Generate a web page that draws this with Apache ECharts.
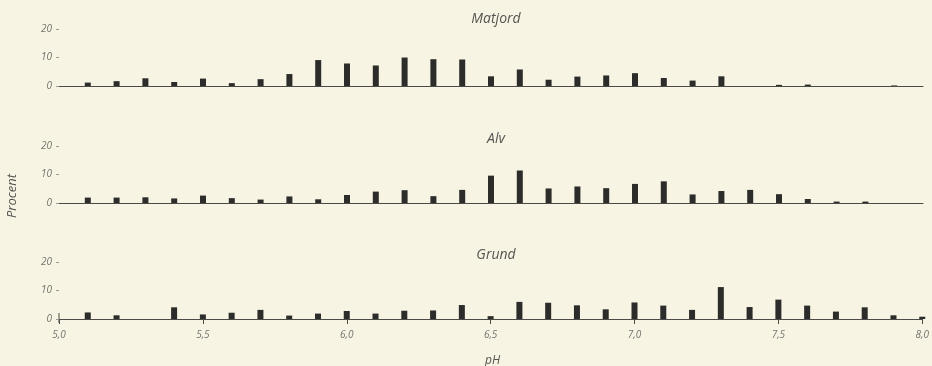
<!DOCTYPE html>
<html>
<head>
<meta charset="utf-8">
<script src="https://cdn.jsdelivr.net/npm/echarts@6/dist/echarts.min.js"></script>
<style>
html,body{margin:0;padding:0;background:#f7f4e3;}
#c{width:932px;height:366px;}
</style>
</head>
<body>
<div id="c"></div>
<script>
const phValues = [5.1,5.2,5.3,5.4,5.5,5.6,5.7,5.8,5.9,6.0,6.1,6.2,6.3,6.4,6.5,6.6,6.7,6.8,6.9,7.0,7.1,7.2,7.3,7.4,7.5,7.6,7.7,7.8,7.9,8.0];
const matjord = [1.2,1.7,2.7,1.4,2.6,1.0,2.4,4.2,9.1,7.9,7.2,10.0,9.4,9.3,3.4,5.8,2.2,3.3,3.7,4.5,2.8,1.9,3.4,0,0.4,0.5,0,0,0.2,0];
const alv = [1.9,1.9,2.0,1.6,2.6,1.7,1.2,2.3,1.3,2.8,4.0,4.5,2.4,4.6,9.6,11.4,5.1,5.8,5.2,6.7,7.6,3.0,4.2,4.6,3.1,1.4,0.5,0.5,0,0];
const grund = [2.3,1.3,0,4.1,1.6,2.2,3.2,1.2,1.9,2.8,1.9,2.9,3.0,4.9,1.0,6.0,5.7,4.8,3.4,5.8,4.7,3.2,11.2,4.2,6.8,4.7,2.6,4.1,1.3,0.8];
const panelTitles = ['Matjord','Alv','Grund'];
const yTicks = [0,10,20];
const xTickLabels = ['5,0','5,5','6,0','6,5','7,0','7,5','8,0'];
const seriesList = [matjord, alv, grund];

const grey = '#74746f';
const font = 'Open Sans';
const tops = [29, 146, 262];
const h = 57;

const grids = tops.map(t => ({left: 59, right: 9, top: t, height: h}));
const xAxes = tops.map((t, i) => ({
  type: 'value', gridIndex: i, min: 5.0, max: 8.0, interval: 0.5,
  axisLine: {show: true, onZero: false, lineStyle: {color: '#4a4a46', width: 1}},
  axisTick: {show: i === 2, length: 5, lineStyle: {color: '#4a4a46'}},
  axisLabel: {show: i === 2, margin: 11, color: grey, fontStyle: 'italic', fontFamily: font, fontSize: 10,
    formatter: v => xTickLabels[Math.round((v - 5.0) / 0.5)]},
  splitLine: {show: false}
}));
const yAxes = tops.map((t, i) => ({
  type: 'value', gridIndex: i, min: 0, max: 20, interval: 10,
  axisLine: {show: false},
  axisTick: {show: true, length: 3, lineStyle: {color: '#9a9a94'}},
  axisLabel: {margin: 7, color: grey, fontStyle: 'italic', fontFamily: font, fontSize: 10},
  splitLine: {show: false}
}));
const series = seriesList.map((arr, i) => ({
  type: 'bar', xAxisIndex: i, yAxisIndex: i, barWidth: 6,
  itemStyle: {color: '#2c2c2a'},
  data: phValues.map((p, j) => [p, arr[j]])
}));
const titles = panelTitles.map((t, i) => ({
  text: t, left: 491, top: [7, 127, 243][i], textAlign: 'center',
  textStyle: {fontSize: 14, fontStyle: 'italic', fontWeight: 'normal', color: '#555552', fontFamily: font}
}));

const chart = echarts.init(document.getElementById('c'), null, {renderer: 'canvas'});
chart.setOption({
  backgroundColor: '#f7f4e3',
  animation: false,
  title: titles,
  grid: grids,
  xAxis: xAxes,
  yAxis: yAxes,
  series: series,
  graphic: [
    {type: 'text', x: 6, y: 218, rotation: Math.PI / 2, style: {text: 'Procent', fontSize: 13, fontStyle: 'italic', fill: '#555552', fontFamily: font}},
    {type: 'line', shape: {x1: 59, y1: 313, x2: 59, y2: 323}, style: {stroke: '#4a4a46', lineWidth: 1}},
    {type: 'text', left: 485, top: 355, style: {text: 'pH', fontSize: 12, fontStyle: 'italic', fill: '#555552', fontFamily: font}}
  ]
});
</script>
</body>
</html>
